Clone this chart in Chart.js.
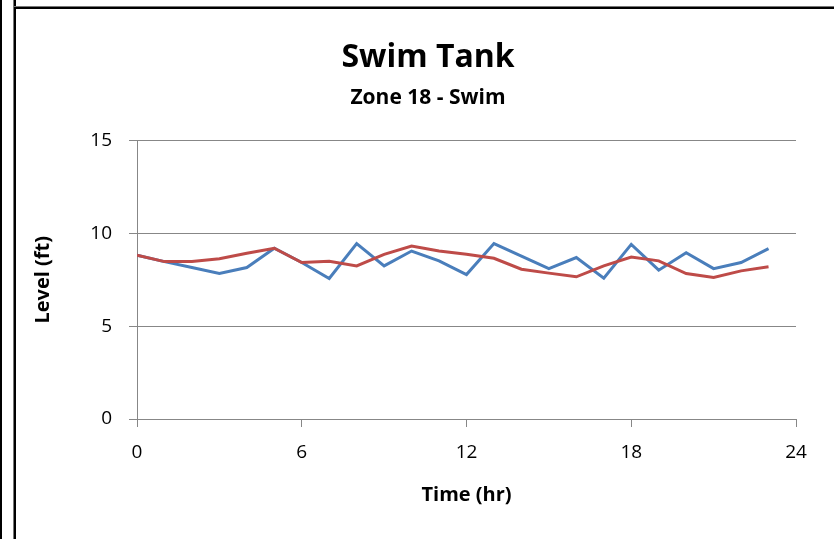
<!DOCTYPE html>
<html>
<head>
<meta charset="utf-8">
<script src="https://cdn.jsdelivr.net/npm/chart.js@4.4.1/dist/chart.umd.min.js"></script>
<style>
  html, body { margin: 0; padding: 0; background: #fff; }
  #wrap { position: relative; width: 834px; height: 539px; overflow: hidden; }
  #myChart { position: absolute; left: 0; top: 0; }
  .edge { position: absolute; background: #000; }
</style>
</head>
<body>
<div id="wrap">
  <canvas id="myChart" width="834" height="539"></canvas>
  <div class="edge" style="left:0;top:0;width:2px;height:539px"></div>
  <div class="edge" style="left:13px;top:0;width:1px;height:539px;background:#777"></div>
  <div class="edge" style="left:14px;top:0;width:2px;height:539px"></div>
  <div class="edge" style="left:14px;top:6px;width:820px;height:1px;background:#777"></div>
  <div class="edge" style="left:14px;top:7px;width:820px;height:2px"></div>
</div>
<script>
// hours 0..23, tank level in ft
const hours = [0, 1, 2, 3, 4, 5, 6, 7, 8, 9, 10, 11, 12, 13, 14, 15, 16, 17, 18, 19, 20, 21, 22, 23]
const levelBlue = [8.82, 8.48, 8.16, 7.84, 8.16, 9.2, 8.43, 7.57, 9.45, 8.25, 9.05, 8.52,
                   7.78, 9.45, 8.78, 8.1, 8.7, 7.59, 9.41, 8.02, 8.96, 8.1, 8.43, 9.18]
const levelRed = [8.82, 8.48, 8.48, 8.64, 8.93, 9.2, 8.43, 8.5, 8.25, 8.87, 9.32, 9.05,
                  8.88, 8.66, 8.07, 7.86, 7.66, 8.25, 8.73, 8.52, 7.84, 7.62, 7.98, 8.2]
const xTicks = [0, 6, 12, 18, 24]
const yTicks = [0, 5, 10, 15]

const gridColor = '#878787'
Chart.defaults.font.family = "'Open Sans', sans-serif"
Chart.defaults.color = '#000'

const ctx = document.getElementById('myChart').getContext('2d')

// left padding 60 + y axis 77 puts the plot at x=137, and centres the titles where the original has them
const myChart = new Chart(ctx, {
  type: 'line',
  data: {
    datasets: [{
      label: 'Series 1',
      data: hours.map((h, i) => ({x: h, y: levelBlue[i]})),
      borderColor: '#4A7EBB',
      borderWidth: 3,
      pointRadius: 0,
      fill: false,
      tension: 0,
      order: 2
    }, {
      label: 'Series 2',
      data: hours.map((h, i) => ({x: h, y: levelRed[i]})),
      borderColor: '#BE4B48',
      borderWidth: 3,
      pointRadius: 0,
      fill: false,
      tension: 0,
      order: 1
    }]
  },
  options: {
    responsive: false,
    animation: false,
    devicePixelRatio: 1,
    layout: { padding: { left: 60, right: 38, top: 0, bottom: 0 } },
    plugins: {
      legend: { display: false },
      tooltip: { enabled: false },
      title: {
        display: true,
        text: 'Swim Tank',
        font: { size: 32, weight: 'bold' },
        padding: { top: 39, bottom: 4 }
      },
      subtitle: {
        display: true,
        text: 'Zone 18 - Swim',
        color: '#000',
        font: { size: 21, weight: 'bold' },
        padding: { top: 4, bottom: 30 }
      }
    },
    scales: {
      x: {
        type: 'linear',
        min: 0,
        max: 24,
        afterBuildTicks: s => { s.ticks = xTicks.map(v => ({value: v})) },
        afterFit: s => { s.height = 120 },
        grid: { drawOnChartArea: false, color: gridColor, tickLength: 8 },
        border: { color: gridColor },
        ticks: { font: { size: 19 }, padding: 14, maxRotation: 0 },
        title: { display: true, text: 'Time (hr)', font: { size: 20, weight: 'bold' }, padding: { bottom: 32 } }
      },
      y: {
        min: 0,
        max: 15,
        afterBuildTicks: s => { s.ticks = yTicks.map(v => ({value: v})) },
        afterFit: s => { s.width = 77 },
        grid: { color: gridColor, tickLength: 8 },
        border: { color: gridColor },
        ticks: { font: { size: 19 }, padding: 17 },
        title: { display: true, text: 'Level (ft)', font: { size: 20, weight: 'bold' }, padding: { top: -29 } }
      }
    }
  }
})
</script>
</body>
</html>
